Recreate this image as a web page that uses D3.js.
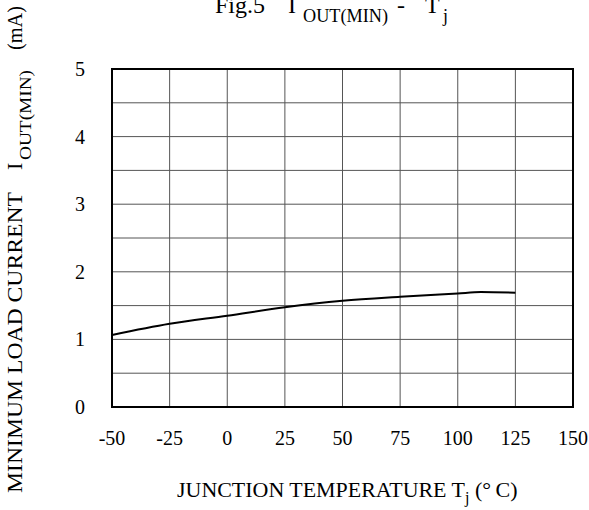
<!DOCTYPE html>
<html><head><meta charset="utf-8">
<script src="https://cdn.jsdelivr.net/npm/d3@7"></script>
<style>
html,body{margin:0;padding:0;background:#fff;}
svg text{font-family:"Liberation Serif","Times New Roman","DejaVu Serif",serif;fill:#000;}
</style></head>
<body>
<svg id="c" width="589" height="510" font-family="Liberation Serif, Times New Roman, serif"></svg>
<script>
const tempC = [-50, -25, 0, 25, 50, 75, 100, 110, 125];
const iOutMin = [1.065, 1.23, 1.35, 1.475, 1.57, 1.63, 1.68, 1.70, 1.69];
const xTicks = [-50, -25, 0, 25, 50, 75, 100, 125, 150];
const yTicks = [0, 1, 2, 3, 4, 5];
const yGrid = [0.5, 1, 1.5, 2, 2.5, 3, 3.5, 4, 4.5];

const svg = d3.select("#c");
const L = 112, R = 573, T = 69, B = 407;
const x = d3.scaleLinear().domain([-50, 150]).range([L, R]);
const y = d3.scaleLinear().domain([0, 5]).range([B, T]);

// grid
svg.append("g").selectAll("line").data(xTicks.slice(1, -1)).join("line")
  .attr("x1", d => x(d)).attr("x2", d => x(d)).attr("y1", T).attr("y2", B)
  .attr("stroke", "#555").attr("stroke-width", 1);
svg.append("g").selectAll("line").data(yGrid).join("line")
  .attr("y1", d => y(d)).attr("y2", d => y(d)).attr("x1", L).attr("x2", R)
  .attr("stroke", "#555").attr("stroke-width", 1);

// frame
svg.append("rect").attr("x", L).attr("y", T).attr("width", R - L).attr("height", B - T)
  .attr("fill", "none").attr("stroke", "#000").attr("stroke-width", 2);

// curve
const line = d3.line().x((d, i) => x(tempC[i])).y(d => y(d)).curve(d3.curveMonotoneX);
svg.append("path").datum(iOutMin).attr("d", line)
  .attr("fill", "none").attr("stroke", "#000").attr("stroke-width", 2);

// tick labels
svg.append("g").selectAll("text").data(yTicks).join("text")
  .attr("x", 80).attr("y", d => y(d) + 7).attr("text-anchor", "middle")
  .attr("font-size", 20).text(d => d);
svg.append("g").selectAll("text").data(xTicks).join("text")
  .attr("x", d => x(d)).attr("y", 445).attr("text-anchor", "middle")
  .attr("font-size", 20).text(d => d);

// title
const t = svg.append("g");
t.append("text").attr("x", 215).attr("y", 13).attr("font-size", 24).text("Fig.5");
t.append("text").attr("x", 288).attr("y", 13).attr("font-size", 24).text("I");
t.append("text").attr("x", 303).attr("y", 22).attr("font-size", 18).attr("textLength", 85).attr("lengthAdjust", "spacingAndGlyphs").text("OUT(MIN)");
t.append("text").attr("x", 397).attr("y", 13).attr("font-size", 24).text("-");
t.append("text").attr("x", 425).attr("y", 13).attr("font-size", 24).text("T");
t.append("text").attr("x", 443).attr("y", 22).attr("font-size", 18).text("j");

// x title
const xt = svg.append("text").attr("x", 177).attr("y", 497).attr("font-size", 22);
xt.append("tspan").attr("textLength", 288).attr("lengthAdjust", "spacingAndGlyphs").text("JUNCTION TEMPERATURE T");
xt.append("tspan").attr("font-size", 16).attr("dy", 6).text("j");
xt.append("tspan").attr("dy", -6).text("\u00A0(°\u2009C)");

// y title (rotated)
const yt = svg.append("g").attr("transform", "translate(22,0) rotate(-90)");
yt.append("text").attr("x", -493).attr("y", 0).attr("font-size", 22)
  .attr("textLength", 301).attr("lengthAdjust", "spacingAndGlyphs").text("MINIMUM LOAD CURRENT");
yt.append("text").attr("x", -170).attr("y", 0).attr("font-size", 22).text("I");
yt.append("text").attr("x", -160).attr("y", 9).attr("font-size", 17)
  .attr("textLength", 90).attr("lengthAdjust", "spacingAndGlyphs").text("OUT(MIN)");
yt.append("text").attr("x", -50).attr("y", 0).attr("font-size", 20)
  .attr("textLength", 44).attr("lengthAdjust", "spacingAndGlyphs").text("(mA)");
</script>
</body></html>
